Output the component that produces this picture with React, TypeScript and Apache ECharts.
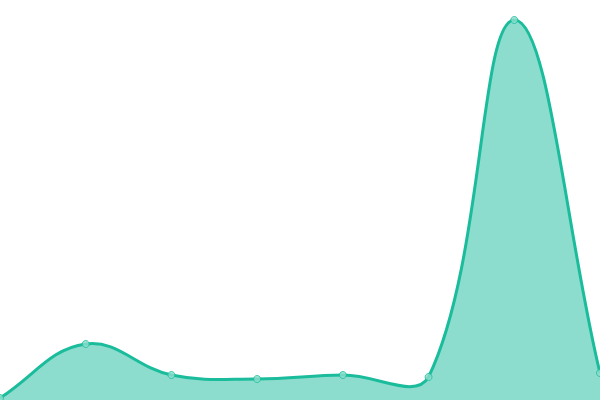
import React, { useEffect, useRef } from 'react';
import * as echarts from 'echarts';

// data
const categories = ['1', '2', '3', '4', '5', '6', '7', '8'];
const values = [2, 56, 25, 21, 25, 23, 380, 27];

const LINE = '#1abc9c';
const TENSION = 0.4;

// spline control points (curve may overshoot between points, like the reference)
function splinePath(pts: number[][], box: { x: number; y: number; width: number; height: number }) {
  const clampX = (v: number) => Math.max(box.x, Math.min(box.x + box.width, v));
  const clampY = (v: number) => Math.max(box.y, Math.min(box.y + box.height, v));
  const cps = pts.map((cur, i) => {
    const prev = pts[i - 1] || cur;
    const next = pts[i + 1] || cur;
    const d01 = Math.hypot(cur[0] - prev[0], cur[1] - prev[1]);
    const d12 = Math.hypot(next[0] - cur[0], next[1] - cur[1]);
    const sum = d01 + d12 || 1;
    const fa = (TENSION * d01) / sum;
    const fb = (TENSION * d12) / sum;
    return {
      inX: clampX(cur[0] - fa * (next[0] - prev[0])),
      inY: clampY(cur[1] - fa * (next[1] - prev[1])),
      outX: clampX(cur[0] + fb * (next[0] - prev[0])),
      outY: clampY(cur[1] + fb * (next[1] - prev[1])),
    };
  });
  let d = `M ${pts[0][0]} ${pts[0][1]}`;
  for (let i = 1; i < pts.length; i++) {
    const a = cps[i - 1];
    const b = cps[i];
    d += ` C ${a.outX} ${a.outY} ${b.inX} ${b.inY} ${pts[i][0]} ${pts[i][1]}`;
  }
  return d;
}

const App = () => {
  const chartRef = useRef(null);

  useEffect(() => {
    document.body.style.margin = '0';
    const myChart = echarts.init(chartRef.current, null, { renderer: 'svg' });

    const option = {
      animation: false,
      grid: { left: 0, right: 0, top: 0, bottom: 0 },
      xAxis: {
        type: 'category',
        data: categories,
        boundaryGap: false,
        show: false,
      },
      yAxis: {
        type: 'value',
        min: 0,
        max: 400,
        show: false,
      },
      series: [
        {
          type: 'custom',
          data: [0],
          z: 1,
          renderItem: (params: any, api: any) => {
            const pts = values.map((v, i) => api.coord([i, v]));
            const line = splinePath(pts, params.coordSys);
            const base0 = api.coord([0, 0]);
            const base1 = api.coord([values.length - 1, 0]);
            const area = `${line} L ${base1[0]} ${base1[1]} L ${base0[0]} ${base0[1]} Z`;
            return {
              type: 'group',
              children: [
                {
                  type: 'path',
                  shape: { pathData: area },
                  style: { fill: 'rgba(26,188,156,0.5)', stroke: 'none' },
                },
                {
                  type: 'path',
                  shape: { pathData: line },
                  style: { fill: 'none', stroke: LINE, lineWidth: 3 },
                },
              ],
            };
          },
        },
        {
          type: 'scatter',
          data: values,
          z: 2,
          symbol: 'circle',
          symbolSize: 7,
          itemStyle: { color: '#8ddecd', borderColor: LINE, borderWidth: 1 },
        },
      ],
    };

    myChart.setOption(option);

    return () => {
      myChart.dispose();
    };
  }, []);

  return <div ref={chartRef} style={{ width: '600px', height: '400px' }} />;
};

export default App;
